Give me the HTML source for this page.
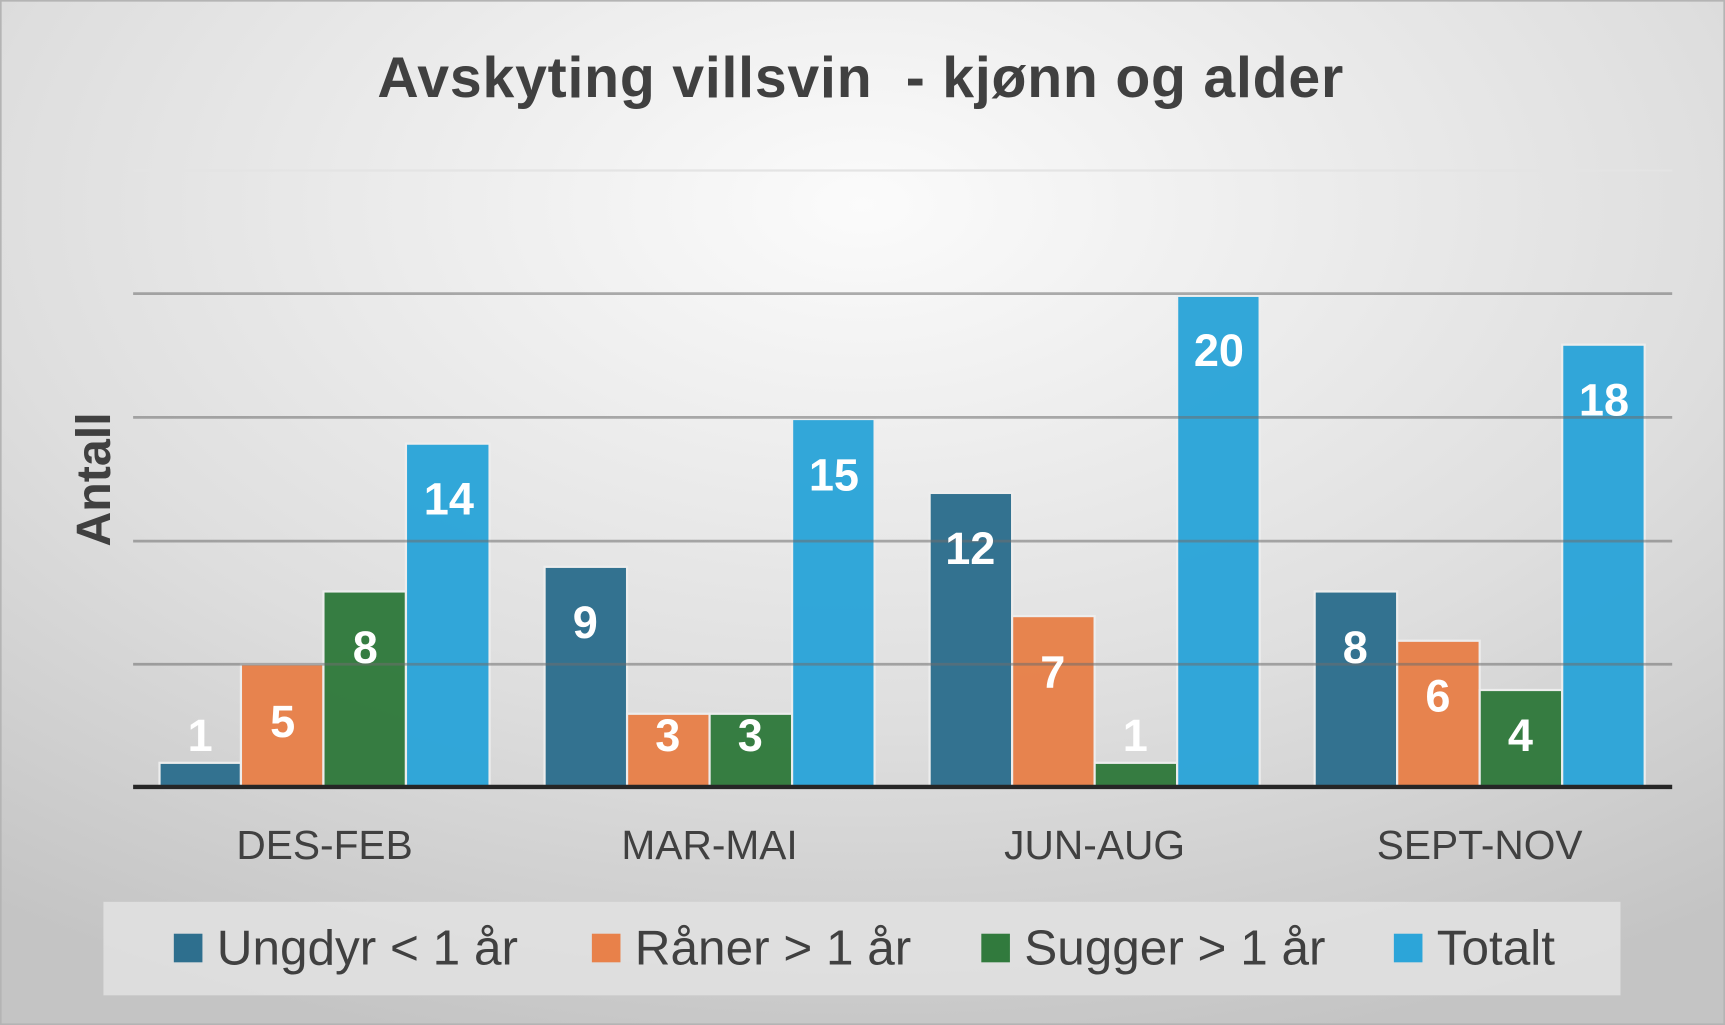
<!DOCTYPE html>
<html><head><meta charset="utf-8"><style>
html,body{margin:0;padding:0;width:1725px;height:1025px;overflow:hidden}
svg{display:block}
</style></head><body>
<svg width="1725" height="1025" viewBox="0 0 1568 932" preserveAspectRatio="none" font-family="Liberation Sans, sans-serif">
<defs>
<radialGradient id="bg" cx="0.5" cy="0.2" r="0.85">
<stop offset="0" stop-color="#fbfbfb"/><stop offset="0.6" stop-color="#dedede"/><stop offset="1" stop-color="#c4c4c4"/>
</radialGradient>
</defs>
<rect x="0" y="0" width="1568" height="932" fill="url(#bg)" stroke="#b4b4b4" stroke-width="3"/>
<text x="782" y="88" text-anchor="middle" font-size="52" font-weight="bold" fill="#404040" textLength="878" xml:space="preserve">Avskyting villsvin  - kjønn og alder</text>
<text transform="translate(100,436) rotate(-90)" text-anchor="middle" font-size="44" font-weight="bold" fill="#404040">Antall</text>
<g stroke="#e4e4e4" stroke-width="2"><line x1="121" y1="155" x2="1520" y2="155"/></g>
<g id="bars" stroke="#eeeeee" stroke-width="2" opacity="0.97">
<rect x="145" y="693.6" width="74" height="21.4" fill="#2e6f8e"/>
<rect x="219" y="604" width="75" height="111" fill="#e8814a"/>
<rect x="294" y="537.8" width="75" height="177.2" fill="#317a3d"/>
<rect x="369" y="403.4" width="76" height="311.6" fill="#2ca5d9"/>
<rect x="495" y="515.4" width="75" height="199.6" fill="#2e6f8e"/>
<rect x="570" y="649" width="75" height="66" fill="#e8814a"/>
<rect x="645" y="649" width="75" height="66" fill="#317a3d"/>
<rect x="720" y="381" width="75" height="334" fill="#2ca5d9"/>
<rect x="845" y="448.2" width="75" height="266.8" fill="#2e6f8e"/>
<rect x="920" y="560.2" width="75" height="154.8" fill="#e8814a"/>
<rect x="995" y="693.6" width="75" height="21.4" fill="#317a3d"/>
<rect x="1070" y="269" width="75" height="446" fill="#2ca5d9"/>
<rect x="1195" y="537.8" width="75" height="177.2" fill="#2e6f8e"/>
<rect x="1270" y="582.6" width="75" height="132.4" fill="#e8814a"/>
<rect x="1345" y="627.4" width="75" height="87.6" fill="#317a3d"/>
<rect x="1420" y="313.4" width="75" height="401.6" fill="#2ca5d9"/>
</g>
<g stroke="#6e6e6e" stroke-opacity="0.55" stroke-width="2.5">
<line x1="121" y1="267" x2="1520" y2="267"/>
<line x1="121" y1="379.5" x2="1520" y2="379.5"/>
<line x1="121" y1="492" x2="1520" y2="492"/>
<line x1="121" y1="604" x2="1520" y2="604"/>
</g>
<line x1="121" y1="715.5" x2="1520" y2="715.5" stroke="#262626" stroke-width="4"/>
<g fill="#ffffff" font-size="41" font-weight="bold" text-anchor="middle">
<text x="182" y="683">1</text><text x="257" y="670">5</text><text x="332" y="603">8</text><text x="408" y="468">14</text>
<text x="532" y="580">9</text><text x="607" y="683">3</text><text x="682" y="683">3</text><text x="758" y="446">15</text>
<text x="882" y="513">12</text><text x="957" y="625">7</text><text x="1032" y="683">1</text><text x="1108" y="333">20</text>
<text x="1232" y="603">8</text><text x="1307" y="647">6</text><text x="1382" y="683">4</text><text x="1458" y="378">18</text>
</g>
<g fill="#404040" font-size="37" text-anchor="middle">
<text x="295" y="781">DES-FEB</text><text x="645" y="781">MAR-MAI</text><text x="995" y="781">JUN-AUG</text><text x="1345" y="781">SEPT-NOV</text>
</g>
<rect x="94" y="820" width="1379" height="85" fill="#e2e2e2" opacity="0.85"/>
<g font-size="45" fill="#404040">
<rect x="158" y="849" width="26" height="26" fill="#2e6f8e"/><text x="197" y="877">Ungdyr &lt; 1 år</text>
<rect x="538" y="849" width="26" height="26" fill="#e8814a"/><text x="577" y="877">Råner &gt; 1 år</text>
<rect x="892" y="849" width="26" height="26" fill="#317a3d"/><text x="931" y="877">Sugger &gt; 1 år</text>
<rect x="1267" y="849" width="26" height="26" fill="#2ca5d9"/><text x="1306" y="877">Totalt</text>
</g>
</svg>
</body></html>
